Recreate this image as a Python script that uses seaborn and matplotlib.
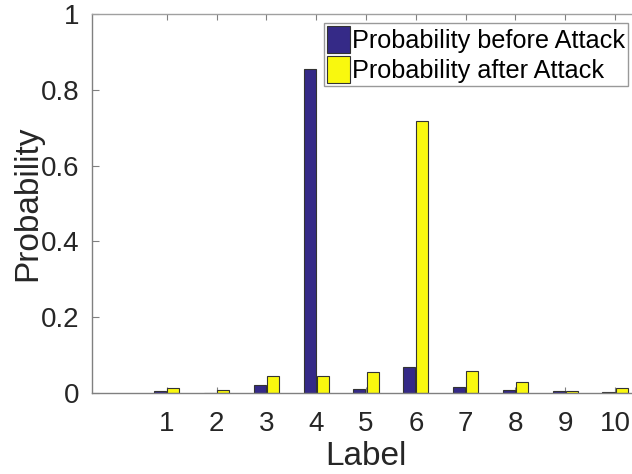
import matplotlib
matplotlib.use("Agg")
import matplotlib.pyplot as plt
import seaborn as sns
import pandas as pd

labels = [1, 2, 3, 4, 5, 6, 7, 8, 9, 10]
prob_before = [0.004, 0.001, 0.020, 0.856, 0.011, 0.069, 0.017, 0.007, 0.004, 0.002]
prob_after = [0.012, 0.009, 0.045, 0.045, 0.055, 0.717, 0.058, 0.030, 0.004, 0.012]
series_names = ["Probability before Attack", "Probability after Attack"]
colors = ["#352A87", "#F9F80E"]

df = pd.DataFrame({
    "Label": labels * 2,
    "Probability": prob_before + prob_after,
    "Series": [series_names[0]] * len(labels) + [series_names[1]] * len(labels),
})

sns.set_style("white")
plt.rcParams["font.family"] = ["Liberation Sans", "DejaVu Sans"]

fig = plt.figure(figsize=(6.32, 4.74), dpi=100)
ax = fig.add_axes([92 / 632, 81 / 474, 548 / 632, 379 / 474])

sns.barplot(data=df, x="Label", y="Probability", hue="Series", hue_order=series_names,
            palette=colors, saturation=1, native_scale=True, width=0.53, gap=0.08,
            edgecolor="#333333", linewidth=0.8, ax=ax, legend=True)

ax.set_xlim(-0.5, 10.5)
ax.set_ylim(0, 1)
ax.set_xticks(labels)
ax.set_xticklabels([str(v) for v in labels])
ax.set_yticks([0, 0.2, 0.4, 0.6, 0.8, 1])
ax.set_yticklabels(["0", "0.2", "0.4", "0.6", "0.8", "1"])
ax.tick_params(axis="both", labelsize=20, colors="#262626")
ax.tick_params(axis="y", direction="in", length=5, color="#808080", left=True, pad=9)
ax.tick_params(axis="x", direction="in", length=4, color="#808080", bottom=True, top=True,
               pad=13)
ax.set_xlabel("Label", fontsize=24, color="#262626", labelpad=3)
ax.set_ylabel("Probability", fontsize=24, color="#262626", labelpad=-2)
ax.spines["right"].set_visible(False)
for s in ["left", "bottom", "top"]:
    ax.spines[s].set_color("#808080")
    ax.spines[s].set_linewidth(1.0)
ax.spines["top"].set_color("#a0a0a0")

leg = ax.legend(loc="upper left", bbox_to_anchor=(324 / 632, 1 - 23 / 474),
                bbox_transform=fig.transFigure,
                fontsize=18.2, frameon=True, fancybox=False, handlelength=0.9,
                handleheight=1.25, handletextpad=0.1, borderpad=0.12, labelspacing=0.12,
                borderaxespad=0)
leg.get_frame().set_edgecolor("#808080")
leg.get_frame().set_linewidth(1.0)
for t in leg.get_texts():
    t.set_color("#000000")

fig.savefig("out.png", dpi=100)
